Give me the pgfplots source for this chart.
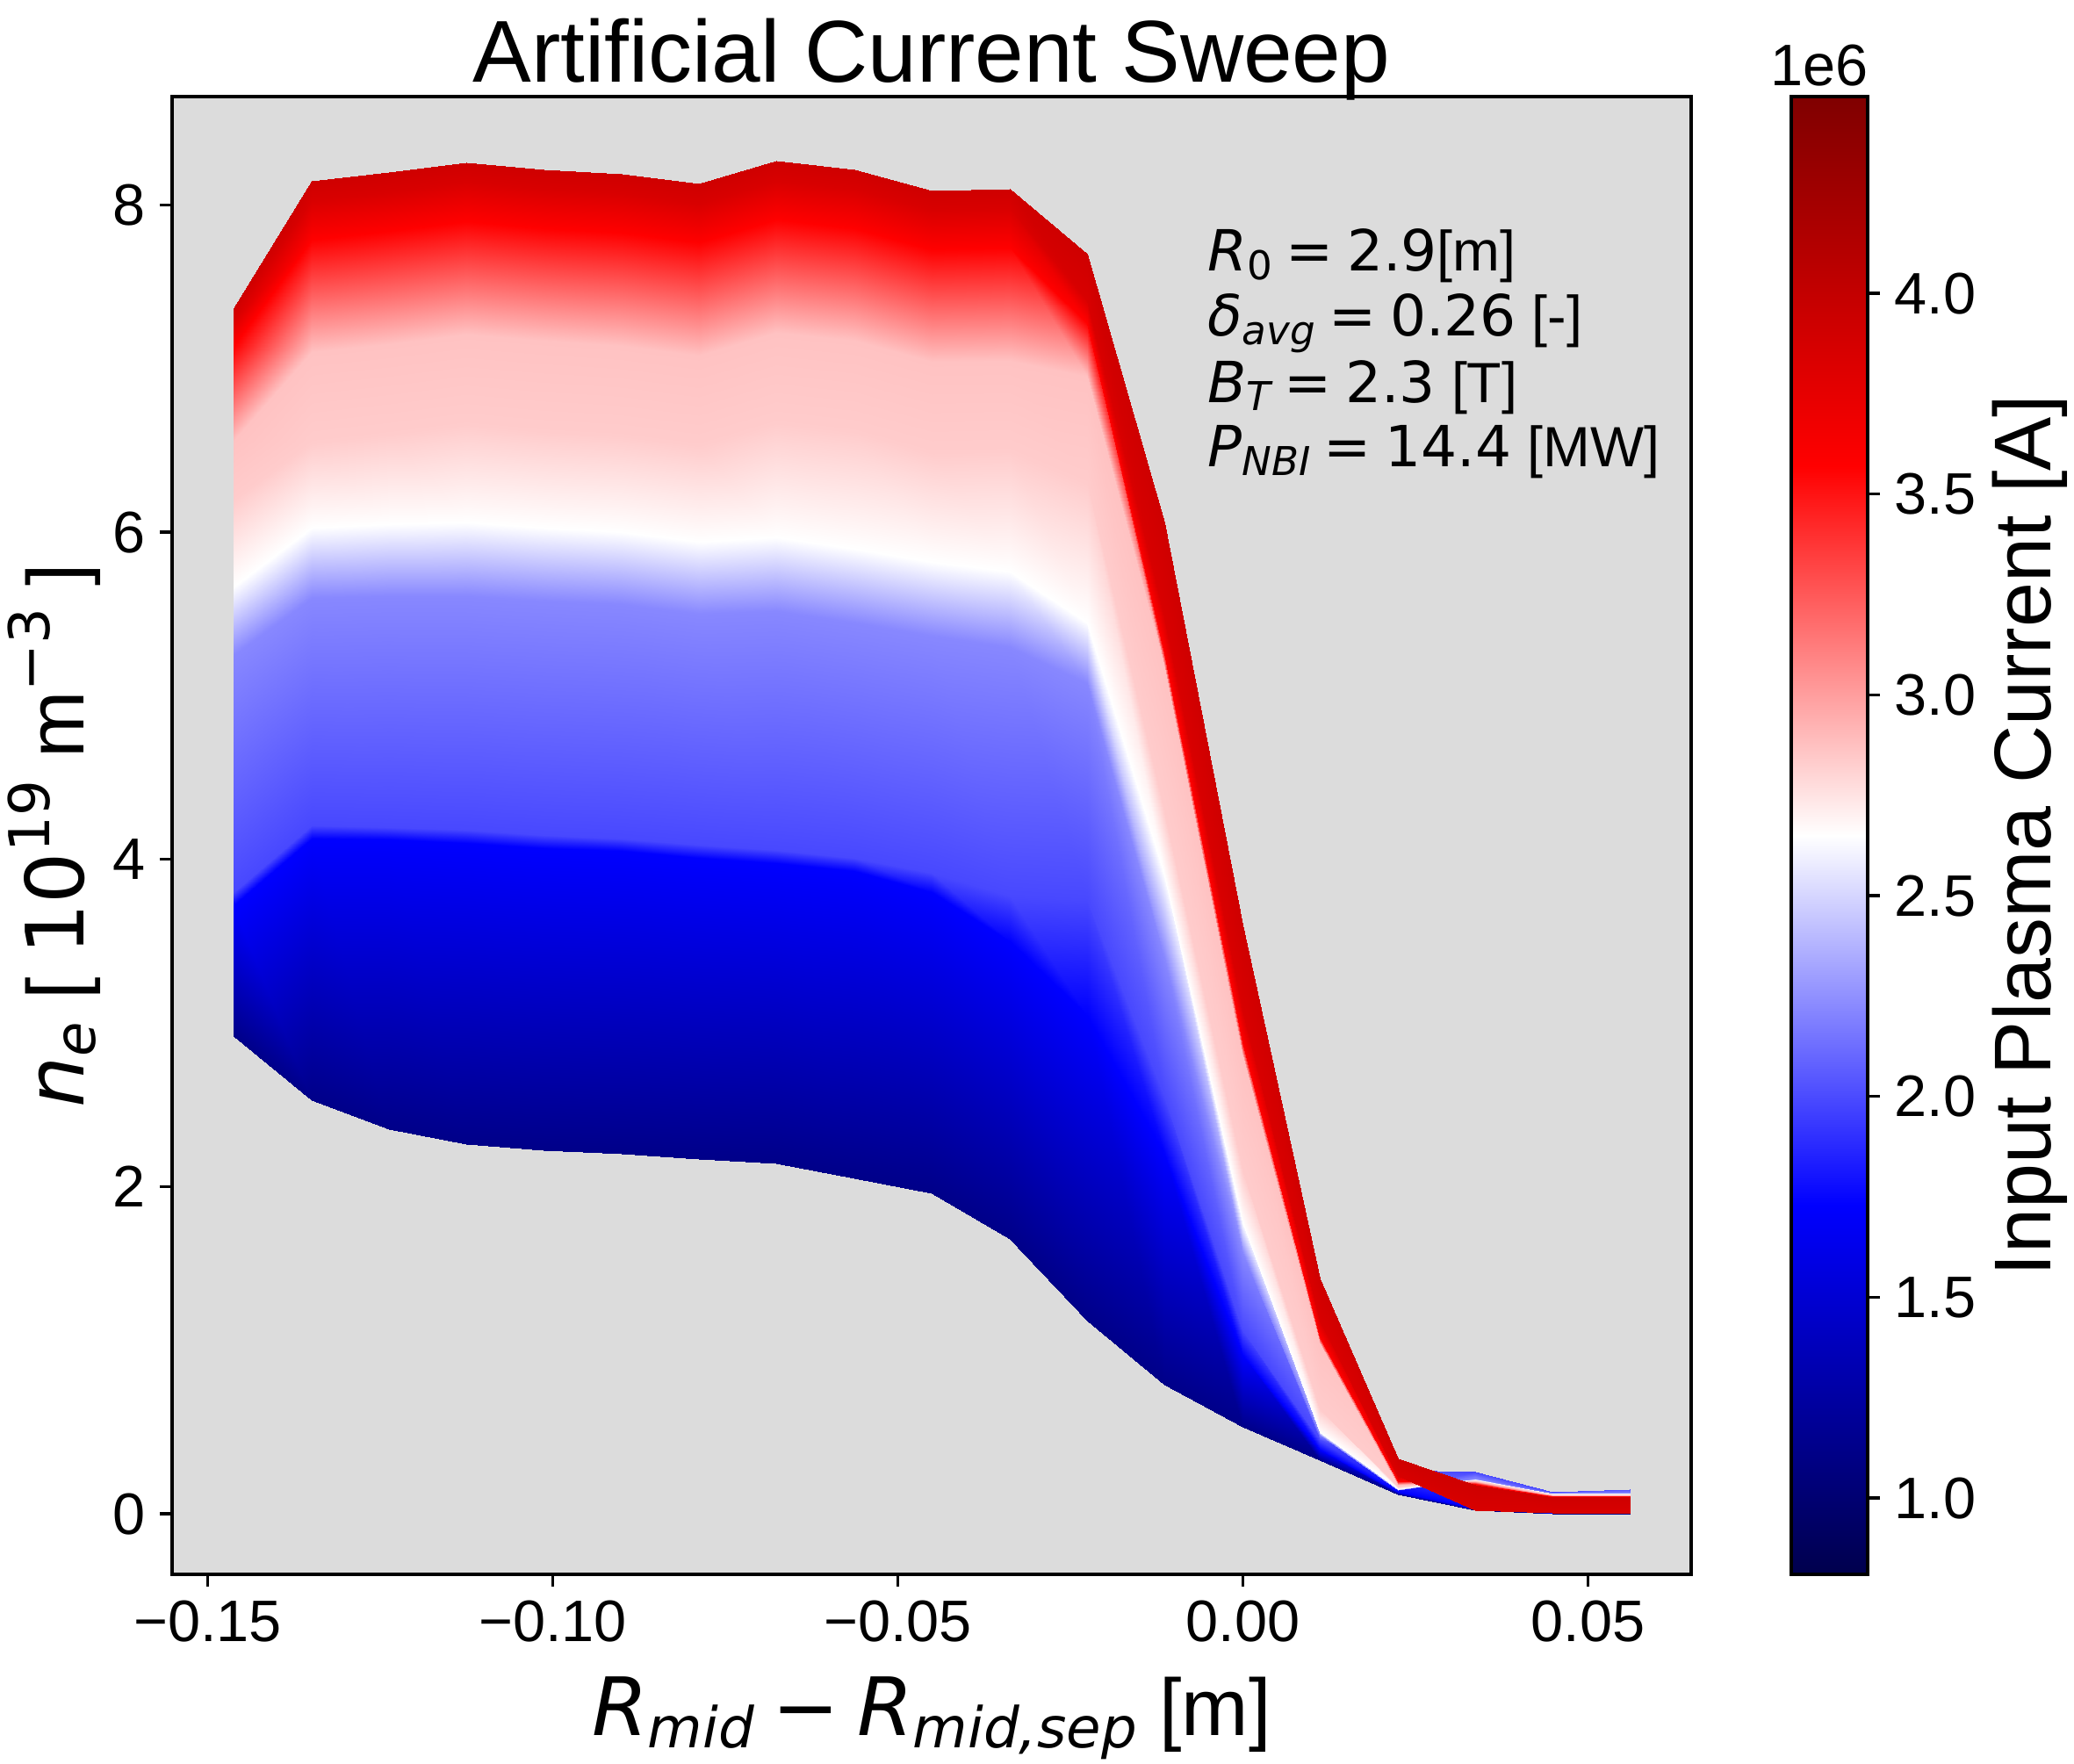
\documentclass[border=0pt]{standalone}
\usepackage{fontspec}
\setmainfont{Liberation Sans}
\newfontfamily\dv{DejaVu Sans}[ItalicFont={DejaVu Sans Oblique}]
\usepackage{graphicx}
\usepackage{pgfplots}
\pgfplotsset{compat=1.18}
\definecolor{bg}{RGB}{220,220,220}
\newcommand{\msub}[1]{\raisebox{-0.15em}{\scalebox{0.7}{#1}}}
\newcommand{\msup}[1]{\raisebox{0.42em}{\scalebox{0.7}{#1}}}
\newcommand{\meq}{\hspace{0.24em}{\dv =}\hspace{0.24em}}
\begin{document}
\begin{tikzpicture}
\useasboundingbox (0,0) rectangle (566.88pt,481.92pt);
\begin{axis}[
  at={(47.04pt,51.6pt)}, anchor=south west,
  scale only axis, width=415.2pt, height=403.92pt,
  xmin=-0.15517, xmax=0.06496, ymin=-0.370, ymax=8.663,
  axis background/.style={fill=bg},
  xtick={-0.15,-0.1,-0.05,0,0.05},
  xticklabels={−0.15,−0.10,−0.05,0.00,0.05},
  ytick={0,2,4,6,8}, yticklabels={0,2,4,6,8},
  xtick pos=left, ytick pos=left,
  tick align=outside, major tick length=3.4pt,
  every tick/.style={black, line width=0.8pt},
  axis line style={line width=0.8pt},
  tick label style={font=\fontsize{16}{19}\selectfont},
  xticklabel style={anchor=north, inner sep=0pt, yshift=-3.6pt},
  yticklabel style={anchor=east, inner sep=0pt, xshift=-3.6pt},
  /pgf/number format/assume math mode=true,
  title={Artificial Current Sweep},
  title style={at={(axis description cs:0.5,0.99501)}, anchor=base, inner sep=0pt, font=\fontsize{24}{29}\selectfont},
  xlabel={{\dv\itshape R}\msub{\dv\itshape mid}\hspace{0.22em}{\dv −}\hspace{0.22em}{\dv\itshape R}\msub{\dv\itshape mid,sep} [m]},
  xlabel style={at={(axis description cs:0.5,-0.109)}, anchor=base, inner sep=0pt, font=\fontsize{22}{26}\selectfont},
  ylabel={{\dv\itshape n}\msub{\dv\itshape e} [ {\dv 10}\msup{\dv 19} m\msup{\dv −3} ]},
  ylabel style={at={(axis description cs:-0.05838,0.5)}, anchor=base, inner sep=0pt, font=\fontsize{22}{26}\selectfont},
  colormap={seismic}{rgb=(0,0,0.3) rgb=(0,0,1) rgb=(1,1,1) rgb=(1,0,0) rgb=(0.5,0,0)},
  point meta min=0.81, point meta max=4.49,
  colorbar,
  /pgfplots/colorbar/width=20.88pt,
  colorbar shift/.style={xshift=27.36pt},
  colorbar style={
    at={(parent axis.north east)}, anchor=north west,
    scale only axis, width=20.88pt, height=403.92pt,
    xmin=0, xmax=1, enlargelimits=false,
    ytick={1,1.5,2,2.5,3,3.5,4},
    yticklabels={1.0,1.5,2.0,2.5,3.0,3.5,4.0},
    ytick pos=right, yticklabel pos=right,
    tick align=outside, major tick length=3.4pt,
    every tick/.style={black, line width=0.8pt},
    axis line style={line width=0.8pt},
    yticklabel style={font=\fontsize{16}{19}\selectfont, anchor=west, inner sep=0pt, xshift=3.8pt},
    ylabel={Input Plasma Current [A]},
    ylabel style={at={(axis description cs:3.391,0.5)}, anchor=base, inner sep=0pt, font=\fontsize{22}{26}\selectfont},
    title={1e6},
    title style={at={(axis description cs:0.368,0.99285)}, anchor=base, inner sep=0pt, font=\fontsize{16}{19}\selectfont},
  },
]
\addplot[surf, shader=interp, mesh/cols=19, point meta=explicit] table[x=x, y=y, meta=c] {
x y c
-0.1462 2.92 1.12
-0.1350 2.53 1.12
-0.1238 2.35 1.12
-0.1125 2.26 1.12
-0.1013 2.22 1.12
-0.0900 2.20 1.12
-0.0788 2.17 1.12
-0.0676 2.14 1.12
-0.0563 2.05 1.12
-0.0451 1.96 1.12
-0.0338 1.68 1.12
-0.0226 1.18 1.12
-0.0114 0.79 1.12
-0.0001 0.53 1.12
0.0111 0.33 1.12
0.0224 0.12 1.12
0.0336 0.02 1.12
0.0449 0.00 1.12
0.0561 0.00 1.12
-0.1462 3.72 1.73
-0.1350 4.13 1.73
-0.1238 4.12 1.73
-0.1125 4.10 1.73
-0.1013 4.07 1.73
-0.0900 4.05 1.73
-0.0788 4.01 1.73
-0.0676 3.98 1.73
-0.0563 3.93 1.73
-0.0451 3.80 1.73
-0.0338 3.50 1.73
-0.0226 3.05 1.73
-0.0114 2.20 1.73
-0.0001 0.97 1.73
0.0111 0.39 1.73
0.0224 0.135 1.73
0.0336 0.03 1.73
0.0449 0.005 1.73
0.0561 0.005 1.73
-0.1462 3.80 1.99
-0.1350 4.21 1.99
-0.1238 4.20 1.99
-0.1125 4.18 1.99
-0.1013 4.15 1.99
-0.0900 4.13 1.99
-0.0788 4.09 1.99
-0.0676 4.06 1.99
-0.0563 4.01 1.99
-0.0451 3.92 1.99
-0.0338 3.78 1.99
-0.0226 3.75 1.99
-0.0114 2.55 1.99
-0.0001 1.12 1.99
0.0111 0.45 1.99
0.0224 0.27 1.99
0.0336 0.26 1.99
0.0449 0.135 1.99
0.0561 0.15 1.99
-0.1462 5.25 2.22
-0.1350 5.60 2.22
-0.1238 5.61 2.22
-0.1125 5.61 2.22
-0.1013 5.58 2.22
-0.0900 5.56 2.22
-0.0788 5.50 2.22
-0.0676 5.52 2.22
-0.0563 5.45 2.22
-0.0451 5.37 2.22
-0.0338 5.30 2.22
-0.0226 5.08 2.22
-0.0114 3.40 2.22
-0.0001 1.60 2.22
0.0111 0.485 2.22
0.0224 0.148 2.22
0.0336 0.215 2.22
0.0449 0.125 2.22
0.0561 0.13 2.22
-0.1462 5.67 2.65
-0.1350 6.03 2.65
-0.1238 6.05 2.65
-0.1125 6.06 2.65
-0.1013 6.03 2.65
-0.0900 6.00 2.65
-0.0788 5.94 2.65
-0.0676 5.97 2.65
-0.0563 5.90 2.65
-0.0451 5.82 2.65
-0.0338 5.76 2.65
-0.0226 5.45 2.65
-0.0114 3.90 2.65
-0.0001 1.78 2.65
0.0111 0.50 2.65
0.0224 0.15 2.65
0.0336 0.21 2.65
0.0449 0.122 2.65
0.0561 0.125 2.65
-0.1462 6.20 2.835
-0.1350 6.55 2.835
-0.1238 6.60 2.835
-0.1125 6.66 2.835
-0.1013 6.62 2.835
-0.0900 6.59 2.835
-0.0788 6.53 2.835
-0.0676 6.67 2.835
-0.0563 6.62 2.835
-0.0451 6.49 2.835
-0.0338 6.50 2.835
-0.0226 6.30 2.835
-0.0114 4.29 2.835
-0.0001 2.10 2.835
0.0111 0.64 2.835
0.0224 0.165 2.835
0.0336 0.205 2.835
0.0449 0.12 2.835
0.0561 0.12 2.835
-0.1462 6.56 2.87
-0.1350 7.10 2.87
-0.1238 7.15 2.87
-0.1125 7.21 2.87
-0.1013 7.17 2.87
-0.0900 7.14 2.87
-0.0788 7.08 2.87
-0.0676 7.22 2.87
-0.0563 7.17 2.87
-0.0451 7.04 2.87
-0.0338 7.05 2.87
-0.0226 6.95 2.87
-0.0114 5.175 2.87
-0.0001 2.80 2.87
0.0111 1.04 2.87
0.0224 0.18 2.87
0.0336 0.20 2.87
0.0449 0.115 2.87
0.0561 0.115 2.87
-0.1462 7.14 3.57
-0.1350 7.79 3.57
-0.1238 7.84 3.57
-0.1125 7.90 3.57
-0.1013 7.86 3.57
-0.0900 7.83 3.57
-0.0788 7.77 3.57
-0.0676 7.91 3.57
-0.0563 7.86 3.57
-0.0451 7.73 3.57
-0.0338 7.74 3.57
-0.0226 7.28 3.57
-0.0114 5.26 3.57
-0.0001 2.88 3.57
0.0111 1.08 3.57
0.0224 0.20 3.57
0.0336 0.185 3.57
0.0449 0.11 3.57
0.0561 0.11 3.57
-0.1462 7.30 3.85
-0.1350 8.03 3.85
-0.1238 8.08 3.85
-0.1125 8.14 3.85
-0.1013 8.10 3.85
-0.0900 8.07 3.85
-0.0788 8.01 3.85
-0.0676 8.15 3.85
-0.0563 8.10 3.85
-0.0451 7.97 3.85
-0.0338 7.98 3.85
-0.0226 7.42 3.85
-0.0114 5.48 3.85
-0.0001 3.08 3.85
0.0111 1.18 3.85
0.0224 0.23 3.85
0.0336 0.02 3.85
0.0449 0.005 3.85
0.0561 0.005 3.85
-0.1462 7.37 3.92
-0.1350 8.15 3.92
-0.1238 8.20 3.92
-0.1125 8.26 3.92
-0.1013 8.22 3.92
-0.0900 8.19 3.92
-0.0788 8.13 3.92
-0.0676 8.27 3.92
-0.0563 8.22 3.92
-0.0451 8.09 3.92
-0.0338 8.10 3.92
-0.0226 7.70 3.92
-0.0114 6.06 3.92
-0.0001 3.60 3.92
0.0111 1.44 3.92
0.0224 0.34 3.92
0.0336 0.175 3.92
0.0449 0.10 3.92
0.0561 0.10 3.92
};
\node[anchor=base west, inner sep=0pt, font=\fontsize{15.5}{18}\selectfont] at (rel axis cs:0.6812,0.8818) {{\dv\itshape R}\msub{\dv 0}\meq{\dv 2.9}[m]};
\node[anchor=base west, inner sep=0pt, font=\fontsize{15.5}{18}\selectfont] at (rel axis cs:0.6812,0.8378) {{\dv\itshape δ}\msub{\dv\itshape avg}\meq{\dv 0.26} [-]};
\node[anchor=base west, inner sep=0pt, font=\fontsize{15.5}{18}\selectfont] at (rel axis cs:0.6812,0.7932) {{\dv\itshape B}\msub{\dv\itshape T}\meq{\dv 2.3} [T]};
\node[anchor=base west, inner sep=0pt, font=\fontsize{15.5}{18}\selectfont] at (rel axis cs:0.6812,0.7493) {{\dv\itshape P}\msub{\dv\itshape NBI}\meq{\dv 14.4} [MW]};
\end{axis}
\end{tikzpicture}
\end{document}
